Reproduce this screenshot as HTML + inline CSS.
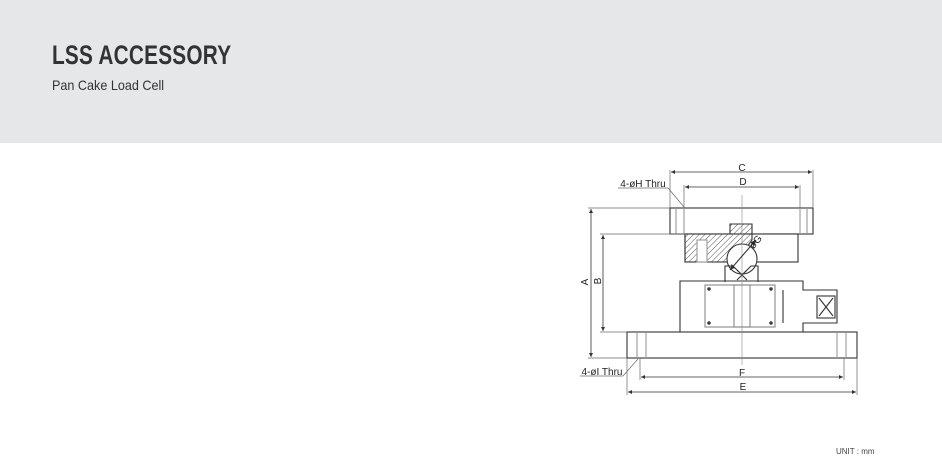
<!DOCTYPE html>
<html><head><meta charset="utf-8"><style>
body{margin:0;width:942px;height:476px;background:#fff;position:relative;overflow:hidden;font-family:"Liberation Sans",sans-serif}
.hd{position:absolute;left:0;top:0;width:942px;height:143px;background:#e6e7e9}
.t{position:absolute;left:52px;top:40px;font-size:27px;font-weight:bold;color:#333;transform:scaleX(0.77);transform-origin:left top;letter-spacing:0.3px}
.s{position:absolute;left:52px;top:77px;font-size:14px;color:#333;transform:scaleX(0.9);transform-origin:left top}
.u{position:absolute;left:836px;top:447px;font-size:8px;color:#444}
svg{position:absolute;left:0;top:0}
</style></head><body>
<div class="hd"></div>
<div class="t">LSS ACCESSORY</div>
<div class="s">Pan Cake Load Cell</div>
<div class="u">UNIT : mm</div>
<svg width="942" height="476" viewBox="0 0 942 476">
<defs><pattern id="h" width="4" height="4" patternUnits="userSpaceOnUse" patternTransform="rotate(45)"><line x1="0" y1="0" x2="0" y2="4" stroke="#555" stroke-width="1"/></pattern>
<marker id="a" markerWidth="6" markerHeight="6" refX="5" refY="3" orient="auto-start-reverse"><path d="M0,0.5 L5,3 L0,5.5Z" fill="#333"/></marker></defs>
<g fill="none" stroke="#333" stroke-width="1.1">
<rect x="670" y="208" width="143" height="26" fill="#fff"/>
<line x1="676" y1="208" x2="676" y2="234" stroke="#999"/><line x1="684" y1="208" x2="684" y2="234" stroke="#999"/>
<line x1="800" y1="208" x2="800" y2="234" stroke="#999"/><line x1="807" y1="208" x2="807" y2="234" stroke="#999"/>
<rect x="685" y="234" width="113" height="28" fill="#fff"/>
<path d="M685,234 H730 V224 H752 V240 L745,250 L732,262 H685Z" fill="url(#h)"/>
<rect x="697" y="240" width="10" height="22" fill="#fff" stroke="#999"/>
<circle cx="742" cy="259" r="15" fill="#fff"/>
<path d="M725,282 V266 H733 L742,275 L751,266 H758 V282"/>
<path d="M737,270 L747,280 M747,270 L737,280"/>
<path d="M680,332 V281 H803 V290 H837 V323 H803 V332"/>
<line x1="783" y1="290" x2="783" y2="323"/>
<rect x="817" y="296" width="18" height="22"/><path d="M819,298 L833,316 M833,298 L819,316"/>
<rect x="705" y="285" width="70" height="42" stroke="#888"/>
<rect x="734" y="285" width="16" height="42" stroke="#888"/>
<circle cx="709" cy="289" r="1.2" fill="#555"/><circle cx="771" cy="289" r="1.2" fill="#555"/>
<circle cx="709" cy="323" r="1.2" fill="#555"/><circle cx="771" cy="323" r="1.2" fill="#555"/>
<rect x="627" y="332" width="230" height="26" fill="#fff"/>
<line x1="637" y1="332" x2="637" y2="358" stroke="#999"/><line x1="646" y1="332" x2="646" y2="358" stroke="#999"/>
<line x1="837" y1="332" x2="837" y2="358" stroke="#999"/><line x1="846" y1="332" x2="846" y2="358" stroke="#999"/>
<line x1="742" y1="195" x2="742" y2="365" stroke="#888" stroke-width="0.6"/>
<line x1="730" y1="270" x2="756" y2="240" marker-start="url(#a)" marker-end="url(#a)"/>
<g stroke="#666" stroke-width="0.7">
<line x1="670" y1="170" x2="670" y2="208"/><line x1="813" y1="170" x2="813" y2="208"/>
<line x1="684" y1="185" x2="684" y2="208"/><line x1="800" y1="185" x2="800" y2="208"/>
<line x1="588" y1="208" x2="670" y2="208"/><line x1="588" y1="358" x2="627" y2="358"/>
<line x1="600" y1="234" x2="685" y2="234"/><line x1="600" y1="332" x2="627" y2="332"/>
<line x1="627" y1="358" x2="627" y2="395"/><line x1="857" y1="358" x2="857" y2="395"/>
<line x1="640" y1="358" x2="640" y2="380"/><line x1="844" y1="358" x2="844" y2="380"/>
<line x1="618" y1="188" x2="668" y2="188"/><line x1="668" y1="188" x2="684" y2="207"/>
<line x1="580" y1="376" x2="623" y2="376"/><line x1="623" y1="376" x2="638" y2="359"/>
</g>
<g stroke="#333" stroke-width="0.8">
<line x1="671" y1="172" x2="812" y2="172" marker-start="url(#a)" marker-end="url(#a)"/>
<line x1="685" y1="187" x2="799" y2="187" marker-start="url(#a)" marker-end="url(#a)"/>
<line x1="591" y1="209" x2="591" y2="357" marker-start="url(#a)" marker-end="url(#a)"/>
<line x1="603" y1="235" x2="603" y2="331" marker-start="url(#a)" marker-end="url(#a)"/>
<line x1="641" y1="377" x2="843" y2="377" marker-start="url(#a)" marker-end="url(#a)"/>
<line x1="628" y1="392" x2="856" y2="392" marker-start="url(#a)" marker-end="url(#a)"/>
</g>
</g>
<g font-family="Liberation Sans,sans-serif" font-size="10" fill="#222" text-anchor="middle">
<text x="742" y="171">C</text><text x="743" y="185">D</text>
<text x="742" y="376">F</text><text x="743" y="390">E</text>
<text x="643" y="187">4-øH Thru</text><text x="602" y="375">4-øI Thru</text>
<text transform="translate(588,282) rotate(-90)">A</text>
<text transform="translate(601,281) rotate(-90)">B</text>
<text transform="translate(758,244) rotate(-50)">øG</text>
</g>
</svg>
</body></html>
